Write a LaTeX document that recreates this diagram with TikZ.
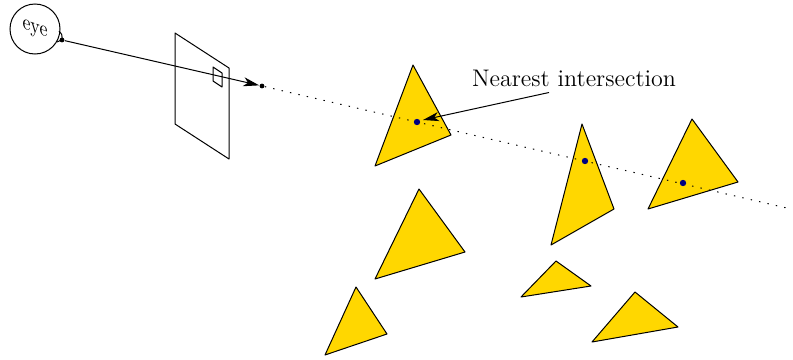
\documentclass[tikz,border=0pt]{standalone}
\usepackage{amsmath}
\usetikzlibrary{positioning, arrows.meta}
\definecolor{trigold}{RGB}{255,215,0}
\definecolor{hitblue}{RGB}{0,0,128}
\begin{document}
\begin{tikzpicture}[
        x=0.5pt, y=-0.5pt,
        line width=0.5pt,
        tri/.style={draw, fill=trigold, line join=round},
        screen/.style={draw, line join=round},
        dotpt/.style={circle, fill=black, inner sep=0pt, minimum size=2.4pt},
        hit/.style={circle, fill=hitblue, inner sep=0pt, minimum size=3.2pt},
        raydots/.style={dash pattern=on 0.7pt off 3.6pt},
        >={Stealth[length=2.8mm, width=1.6mm, inset=0.8mm]},
    ]
    \useasboundingbox (0, 0) rectangle (793, 359);
    % triangles
    \foreach \ax/\ay/\bx/\by/\cx/\cy in {
        413/65/451/135/375/166,
        582/124/614/209/551/245,
        692/119/738/182/648/209,
        419/189/465/252/375/279,
        556/261/591/286/521/297,
        635/292/678/327/592/342,
        356/287/387/334/325/355}
        \draw[tri] (\ax, \ay) -- (\bx, \by) -- (\cx, \cy) -- cycle;
    % image plane
    \draw[screen] (175, 33) -- (229, 68) -- (229, 159) -- (175, 124) -- cycle;
    \draw[screen] (213, 67) -- (222, 73) -- (222, 87) -- (213, 81) -- cycle;
    % eye
    \node[circle, draw, minimum size=25pt, inner sep=0pt,
        label={[yslant=-0.35, inner sep=0pt, yshift=-0.8pt]center:\scalebox{0.9}[1.1]{eye}}] (eye) at (35, 29) {};
    \draw (59, 31) .. controls (64, 35) and (63, 41) .. (57, 42);
    \node[dotpt] (origin) at (62, 40) {};
    \node[dotpt] (target) at (262, 86) {};
    \coordinate (rayend) at (791, 209);
    \draw[raydots] (target) -- (rayend);
    \draw[->] (origin) -- (target);
    % intersections
    \node[hit] (first)  at (417, 122) {};
    \node[hit] (second) at (585, 161) {};
    \node[hit] (third)  at (683, 183) {};
    \node[font=\large] (nearest) at (574, 78) {Nearest intersection};
    \coordinate (leader) at (549, 92.5);
    \coordinate (leadtip) at (423, 120);
    \draw[->] (leader) -- (leadtip);
\end{tikzpicture}
\end{document}
